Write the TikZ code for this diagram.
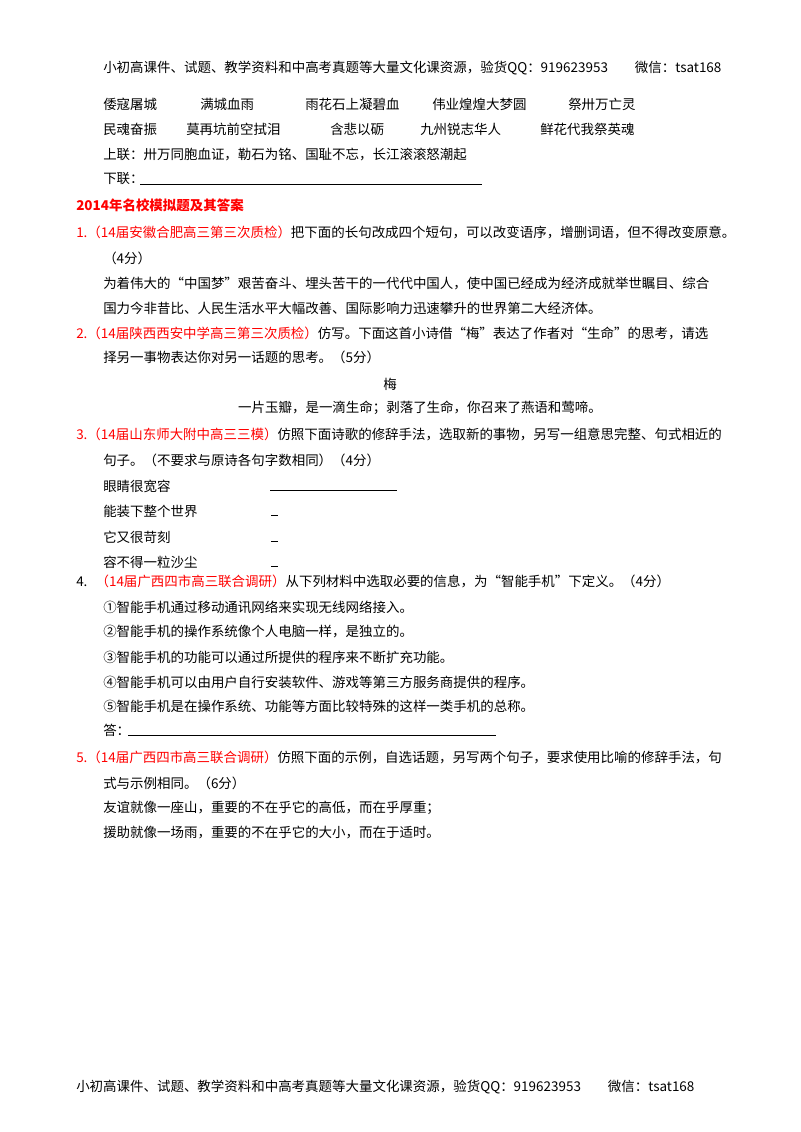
\documentclass[tikz,border=0pt]{standalone}
\usepackage{fontspec}
\setmainfont{Liberation Serif}
\newfontfamily\cjk{Noto Sans CJK SC}
\begin{document}
\begin{tikzpicture}[x=0.75pt,y=-0.75pt,
  t/.style={anchor=west,inner sep=0pt,font=\cjk\fontsize{10.1pt}{12pt}\selectfont},
  ln/.style={line width=0.6pt}]
\useasboundingbox (0,0) rectangle (800,1132);
\node[t] (h) at (103,68) {小初高课件、试题、教学资料和中高考真题等大量文化课资源，验货QQ：919623953\hspace{2em}微信：tsat168};
\node[t] (a1) at (103,104) {倭寇屠城}; \node[t] (a2) at (200,104) {满城血雨};
\node[t] (a3) at (305,104) {雨花石上凝碧血}; \node[t] (a4) at (432,104) {伟业煌煌大梦圆};
\node[t] (a5) at (568,104) {祭卅万亡灵};
\node[t] (b1) at (103,129) {民魂奋振}; \node[t] (b2) at (186,129) {莫再坑前空拭泪};
\node[t] (b3) at (330,129) {含悲以砺}; \node[t] (b4) at (420,129) {九州锐志华人};
\node[t] (b5) at (540,129) {鲜花代我祭英魂};
\node[t] (sl) at (103,155) {上联：卅万同胞血证，勒石为铭、国耻不忘，长江滚滚怒潮起};
\node[t] (xl) at (103,179) {下联：};
\draw[ln] (140,184) -- (482,184);
\node[t,text=red,font=\cjk\bfseries\fontsize{10.1pt}{12pt}\selectfont] (tt) at (76,205) {2014年名校模拟题及其答案};
\node[t] (q1) at (76,232) {\textcolor{red}{1.（14届安徽合肥高三第三次质检）}把下面的长句改成四个短句，可以改变语序，增删词语，但不得改变原意。};
\node[t] (q1b) at (103,258) {（4分）};
\node[t] (q1c) at (103,284) {为着伟大的“中国梦”艰苦奋斗、埋头苦干的一代代中国人，使中国已经成为经济成就举世瞩目、综合};
\node[t] (q1d) at (103,308) {国力今非昔比、人民生活水平大幅改善、国际影响力迅速攀升的世界第二大经济体。};
\node[t] (q2) at (76,333) {\textcolor{red}{2.（14届陕西西安中学高三第三次质检）}仿写。下面这首小诗借“梅”表达了作者对“生命”的思考，请选};
\node[t] (q2b) at (103,357) {择另一事物表达你对另一话题的思考。（5分）};
\node[t,anchor=center] (mei) at (390,384) {梅};
\node[t,anchor=center] (mei2) at (420,408) {一片玉瓣，是一滴生命；剥落了生命，你召来了燕语和莺啼。};
\node[t] (q3) at (76,434) {\textcolor{red}{3.（14届山东师大附中高三三模）}仿照下面诗歌的修辞手法，选取新的事物，另写一组意思完整、句式相近的};
\node[t] (q3b) at (103,460) {句子。（不要求与原诗各句字数相同）（4分）};
\node[t] (p1) at (103,486) {眼睛很宽容}; \draw[ln] (270,490) -- (397,490);
\node[t] (p2) at (103,511) {能装下整个世界}; \draw[ln] (271,515) -- (278,515);
\node[t] (p3) at (103,537) {它又很苛刻}; \draw[ln] (271,541) -- (278,541);
\node[t] (p4) at (103,562) {容不得一粒沙尘}; \draw[ln] (271,566) -- (278,566);
\node[t] (q4) at (76,581) {4.\hspace{0.6em}\textcolor{red}{（14届广西四市高三联合调研）}从下列材料中选取必要的信息，为“智能手机”下定义。（4分）};
\node[t] (i1) at (103,607) {①智能手机通过移动通讯网络来实现无线网络接入。};
\node[t] (i2) at (103,632) {②智能手机的操作系统像个人电脑一样，是独立的。};
\node[t] (i3) at (103,657) {③智能手机的功能可以通过所提供的程序来不断扩充功能。};
\node[t] (i4) at (103,682) {④智能手机可以由用户自行安装软件、游戏等第三方服务商提供的程序。};
\node[t] (i5) at (103,706) {⑤智能手机是在操作系统、功能等方面比较特殊的这样一类手机的总称。};
\node[t] (da) at (103,730) {答：}; \draw[ln] (128,735) -- (496,735);
\node[t] (q5) at (76,757) {\textcolor{red}{5.（14届广西四市高三联合调研）}仿照下面的示例，自选话题，另写两个句子，要求使用比喻的修辞手法，句};
\node[t] (q5b) at (103,783) {式与示例相同。（6分）};
\node[t] (e1) at (103,808) {友谊就像一座山，重要的不在乎它的高低，而在乎厚重；};
\node[t] (e2) at (103,833) {援助就像一场雨，重要的不在乎它的大小，而在于适时。};
\node[t] (f) at (76,1087) {小初高课件、试题、教学资料和中高考真题等大量文化课资源，验货QQ：919623953\hspace{2em}微信：tsat168};
\end{tikzpicture}
\end{document}
